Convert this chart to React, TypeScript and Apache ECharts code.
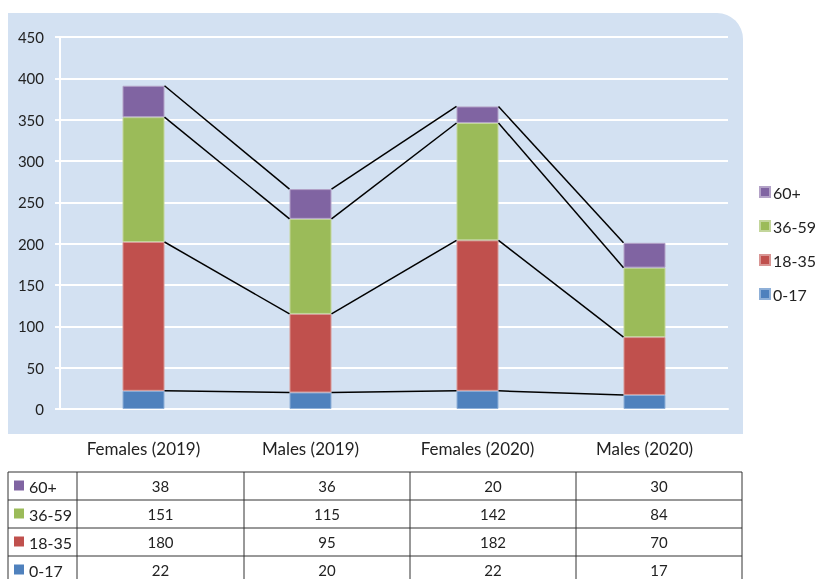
import React, { useEffect, useRef } from "react";
import * as echarts from "echarts";

const categories = ["Females (2019)", "Males (2019)", "Females (2020)", "Males (2020)"];
const seriesNames = ["0-17", "18-35", "36-59", "60+"];
const age0to17 = [22, 20, 22, 17];
const age18to35 = [180, 95, 182, 70];
const age36to59 = [151, 115, 142, 84];
const age60plus = [38, 36, 20, 30];
const yTicks = { min: 0, max: 450, interval: 50 };

const colors = ["#4F81BD", "#C0504D", "#9BBB59", "#8064A2"];
const borders = ["#8FB0D8", "#D99694", "#C3D69B", "#B3A2C7"];
const FONT = "Lato, 'Open Sans', sans-serif";

export default function App() {
  const ref = useRef<HTMLDivElement>(null);
  useEffect(() => {
    if (!ref.current) return;
    const chart = echarts.init(ref.current, undefined, { renderer: "svg" });
    const values = [age0to17, age18to35, age36to59, age60plus];
    const cumulative: number[][] = [];
    values.forEach((arr, k) => {
      cumulative.push(arr.map((v, i) => (k === 0 ? v : cumulative[k - 1][i] + v)));
    });
    const barWidth = 42;

    const barSeries = values.map((arr, k) => ({
      name: seriesNames[k],
      type: "bar",
      stack: "total",
      barWidth,
      data: arr,
      itemStyle: { color: colors[k], borderColor: borders[k], borderWidth: 1 },
      emphasis: { disabled: true },
      z: 3,
    }));

    const lineSeries = cumulative.map((cum) => ({
      type: "custom",
      silent: true,
      z: 4,
      encode: { x: 0, y: 1 },
      data: cum.slice(0, -1).map((v, i) => [i, v, cum[i + 1]]),
      renderItem: (params: any, api: any) => {
        const i = api.value(0);
        const p1 = api.coord([i, api.value(1)]);
        const p2 = api.coord([i + 1, api.value(2)]);
        return {
          type: "line",
          shape: { x1: p1[0] + barWidth / 2, y1: p1[1], x2: p2[0] - barWidth / 2, y2: p2[1] },
          style: { stroke: "#000", lineWidth: 1.5 },
        };
      },
    }));

    // data table
    const colX = [8, 77, 244, 410, 576, 742];
    const rowY = [472, 500, 528, 556, 584];
    const tableEls: any[] = [];
    const order = [3, 2, 1, 0];
    order.forEach((k, r) => {
      const yMid = (rowY[r] + rowY[r + 1]) / 2;
      tableEls.push({
        type: "rect",
        shape: { x: 14, y: yMid - 5.5, width: 10, height: 10 },
        style: { fill: colors[k] },
      });
      tableEls.push({
        type: "text",
        x: 29,
        y: yMid,
        style: { text: seriesNames[k], fontSize: 16, fontFamily: FONT, fill: "#222", verticalAlign: "middle", align: "left" },
      });
      values[k].forEach((v, c) => {
        tableEls.push({
          type: "text",
          x: (colX[c + 1] + colX[c + 2]) / 2,
          y: yMid,
          style: { text: String(v), fontSize: 15, fontFamily: FONT, fill: "#222", verticalAlign: "middle", align: "center" },
        });
      });
    });
    rowY.forEach((y) => {
      tableEls.push({
        type: "line",
        shape: { x1: colX[0], y1: y, x2: colX[colX.length - 1], y2: y },
        style: { stroke: "#333", lineWidth: 1 },
      });
    });
    colX.forEach((x) => {
      tableEls.push({
        type: "line",
        shape: { x1: x, y1: rowY[0], x2: x, y2: rowY[rowY.length - 1] },
        style: { stroke: "#333", lineWidth: 1 },
      });
    });

    chart.setOption({
      animation: false,
      textStyle: { fontFamily: FONT },
      graphic: [
        {
          type: "rect",
          z: -10,
          silent: true,
          shape: { x: 8, y: 13, width: 735, height: 421, r: [0, 26, 0, 0] },
          style: { fill: "#D3E1F2" },
        },
        { type: "group", children: tableEls },
      ],
      legend: {
        orient: "vertical",
        left: 759,
        top: 184,
        padding: 0,
        itemWidth: 10,
        itemHeight: 10,
        itemGap: 18,
        icon: "rect",
        data: ["60+", "36-59", "18-35", "0-17"],
        textStyle: { fontSize: 16, color: "#222", fontFamily: FONT, padding: [0, 0, 0, -2] },
        selectedMode: false,
      },
      grid: { left: 60, right: 90, top: 37, bottom: 170 },
      xAxis: {
        type: "category",
        data: categories,
        axisLine: { lineStyle: { color: "#fff", width: 2 } },
        axisTick: { show: false },
        axisLabel: { fontSize: 17, color: "#222", margin: 31, fontFamily: FONT },
        splitLine: { show: false },
      },
      yAxis: {
        type: "value",
        min: yTicks.min,
        max: yTicks.max,
        interval: yTicks.interval,
        axisLine: { show: true, lineStyle: { color: "#fff", width: 2 } },
        axisTick: { show: true, length: 5, lineStyle: { color: "#fff", width: 2 } },
        axisLabel: { fontSize: 15, color: "#222", margin: 16, fontFamily: FONT },
        splitLine: { lineStyle: { color: "#fff", width: 2 } },
      },
      series: [...barSeries, ...lineSeries],
    });
    return () => chart.dispose();
  }, []);
  return <div ref={ref} style={{ position: "fixed", left: 0, top: 0, width: 818, height: 579 }} />;
}
